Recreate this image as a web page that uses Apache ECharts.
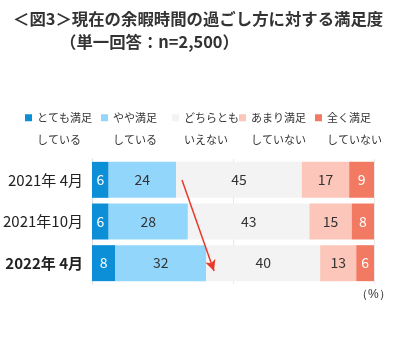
<!DOCTYPE html>
<html><head><meta charset="utf-8">
<script src="https://cdn.jsdelivr.net/npm/echarts@6/dist/echarts.min.js"></script>
<style>html,body{margin:0;padding:0;background:#fff}#c{width:396px;height:339px}</style>
</head><body><div id="c"></div>
<script>
const categories = ['2021年 4月', '2021年10月', '2022年 4月'];
const seriesNames = ['とても満足\nしている', 'やや満足\nしている', 'どちらとも\nいえない', 'あまり満足\nしていない', '全く満足\nしていない'];
const verySatisfied = [5.9, 5.9, 8.3];
const somewhatSatisfied = [23.9, 28.1, 32.2];
const neither = [44.6, 43.1, 40.4];
const notVery = [16.8, 15.0, 12.8];
const notAtAll = [8.9, 7.9, 6.4];
const xTicks = [0, 50, 100];

const colors = ['#0d8fd8', '#92d7fb', '#f3f3f3', '#fcc6ba', '#f27a63'];
const labelColors = ['#ffffff', '#333333', '#333333', '#333333', '#ffffff'];
const values = [verySatisfied, somewhatSatisfied, neither, notVery, notAtAll];
const legendLeft = [25, 101, 172, 239, 315];
const FONT = '"Noto Sans CJK JP", "Noto Sans", sans-serif';

const chart = echarts.init(document.getElementById('c'));
const series = seriesNames.map((n, i) => ({
  name: n,
  type: 'bar',
  stack: 'all',
  barWidth: 36,
  data: values[i],
  itemStyle: { color: colors[i] },
  label: {
    show: true, position: 'inside', fontSize: 14, fontFamily: FONT,
    color: labelColors[i],
    formatter: p => Math.round(p.value)
  },
  emphasis: { disabled: true }
}));
series[0].markLine = {
  silent: true,
  symbol: ['none', 'arrow'],
  symbolSize: [8, 11],
  label: { show: false },
  lineStyle: { color: '#e8392b', width: 1.5, type: 'solid' },
  data: [[{ x: 182, y: 180 }, { x: 214, y: 271 }]]
};

chart.setOption({
  animation: false,
  textStyle: { fontFamily: FONT },
  title: [
    { text: '＜図3＞現在の余暇時間の過ごし方に対する満足度', left: 13, top: 11, padding: 0,
      textStyle: { fontSize: 16.4, fontWeight: 'bold', color: '#333', fontFamily: FONT } },
    { text: '（単一回答：n=2,500）', left: 60, top: 34, padding: 0,
      textStyle: { fontSize: 16.4, fontWeight: 'bold', color: '#333', fontFamily: FONT } }
  ],
  legend: seriesNames.map((n, i) => ({
    data: [n], left: legendLeft[i], top: 84, padding: 0,
    itemWidth: 7, itemHeight: 7, icon: 'rect', selectedMode: false,
    formatter: name => ' \n' + name,
    textStyle: { fontSize: 11, color: '#333', lineHeight: 22.5, fontFamily: FONT }
  })),
  grid: { left: 92, right: 22, top: 159, bottom: 55 },
  xAxis: {
    type: 'value', min: xTicks[0], max: xTicks[xTicks.length - 1], interval: 50,
    axisLabel: { show: false }, axisLine: { show: false }, axisTick: { show: false },
    splitLine: { show: true, lineStyle: { color: '#e8e8e8', width: 1 } }
  },
  yAxis: {
    type: 'category', inverse: true, data: categories,
    axisLine: { show: true, lineStyle: { color: '#dddddd' } },
    axisTick: { show: false },
    axisLabel: {
      margin: 9, fontSize: 15, color: '#222', fontFamily: FONT,
      formatter: (v, i) => i === 2 ? '{b|' + v + '}' : v,
      rich: { b: { fontSize: 15, fontWeight: 'bold', color: '#222', fontFamily: FONT } }
    }
  },
  graphic: [
    { type: 'text', left: 356, top: 289, style: { text: '（%）', fontSize: 12, fill: '#333', font: '12px ' + FONT } }
  ],
  series: series
});
</script></body></html>
